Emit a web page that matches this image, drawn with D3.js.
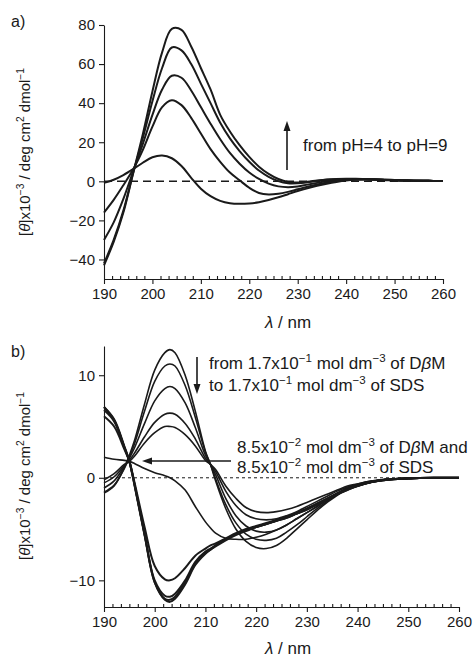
<!DOCTYPE html>
<html><head><meta charset="utf-8">
<script src="https://cdn.jsdelivr.net/npm/d3@7"></script>
<style>
body{margin:0;background:#fff}
svg{display:block}
text{font-family:"Liberation Sans",Arial,Helvetica,sans-serif;fill:#1a1a1a}
</style>
</head><body>
<svg id="chart" width="473" height="658"></svg>
<script>
// ---------- Panel a data ----------
const wavelengthsA = [190,192,194,196,198,200,202,204,206,208,210,212,214,216,218,220,222,224,226,228,230,232,234,236,238,240,242,244,246,248,250,252,254,256,258,260];
const cdA_1 = [-43,-31,-16,4,24,46,66,78,77.5,69,58,47,34,25.5,18.5,12.5,7.5,3.8,1.2,-0.3,-0.6,-0.2,0.4,0.9,1.2,1.3,1.3,1.1,0.9,0.7,0.5,0.4,0.3,0.3,0.2,0.2];
const cdA_2 = [-42,-30,-15,4,22,41,58,68.5,67,60,50,40,30,22,15.5,10,5.5,2.3,0.1,-1,-1,-0.5,0.2,0.8,1.1,1.2,1.2,1.0,0.8,0.6,0.5,0.4,0.3,0.3,0.2,0.2];
const cdA_3 = [-30,-21,-9,5,19,34,47,54,53,46.5,38,29.5,21.5,14.5,9,4.5,1.2,-1.2,-2.6,-3,-2.6,-1.7,-0.8,0.1,0.7,1.0,1.1,1.0,0.9,0.7,0.5,0.4,0.3,0.3,0.2,0.2];
const cdA_4 = [-16,-9.5,-2,6,16,28,38,41.5,39,32.5,24.5,16.5,10,4.5,0.5,-3.3,-6,-6.8,-6.4,-5.4,-4.1,-2.8,-1.6,-0.6,0.2,0.7,0.9,1.0,0.9,0.7,0.5,0.4,0.3,0.3,0.2,0.2];
const cdA_5 = [-0.8,0.8,3.2,6.2,9.5,12.3,13.2,11.8,7.8,1.8,-3.8,-7.6,-10,-11.2,-11.5,-11.3,-10.7,-9.6,-8.2,-6.6,-5,-3.6,-2.3,-1.2,-0.3,0.4,0.8,1.0,1.0,0.9,0.7,0.5,0.4,0.3,0.2,0.2];
const seriesA = [cdA_1, cdA_2, cdA_3, cdA_4, cdA_5];

// ---------- Panel b data ----------
const wavelengthsB = [190,192,194,195,196,198,200,202,203,204,206,208,210,211,212,214,216,218,220,222,224,226,228,230,232,234,236,238,240,243,246,250,255,260];
const cdB_A1 = [-1.5,-0.8,1.0,2.2,3.6,7.2,10.5,12.2,12.5,12.2,10.0,6.5,2.6,1.3,-0.3,-3.0,-5.0,-6.2,-6.8,-6.9,-6.6,-5.9,-5.0,-4.1,-3.2,-2.4,-1.7,-1.2,-0.8,-0.4,-0.2,-0.1,0,0];
const cdB_A2 = [-1.4,-0.7,0.9,2.0,3.3,6.5,9.4,10.9,11.1,10.9,9.0,5.9,2.5,1.3,-0.1,-2.6,-4.4,-5.5,-6.0,-6.1,-5.9,-5.3,-4.6,-3.8,-3.0,-2.3,-1.6,-1.1,-0.8,-0.4,-0.2,-0.1,0,0];
const cdB_A3 = [-1.0,-0.3,1.1,1.9,2.9,5.3,7.5,8.7,8.9,8.7,7.3,4.9,2.2,1.3,0.3,-2.0,-3.7,-4.7,-5.2,-5.3,-5.1,-4.6,-4.0,-3.4,-2.8,-2.1,-1.5,-1.0,-0.7,-0.4,-0.2,-0.1,0,0];
const cdB_A4 = [-0.5,0.1,1.2,1.7,2.4,4.0,5.4,6.2,6.3,6.2,5.3,3.8,1.9,1.3,0.6,-1.3,-2.7,-3.6,-4.0,-4.1,-4.0,-3.7,-3.3,-2.8,-2.3,-1.8,-1.3,-0.9,-0.6,-0.3,-0.15,-0.05,0,0];
const cdB_A5 = [-0.2,0.4,1.3,1.6,2.1,3.4,4.4,5.0,5.0,4.9,4.2,3.1,1.7,1.3,0.8,-0.8,-2.0,-2.9,-3.3,-3.4,-3.3,-3.1,-2.8,-2.4,-2.0,-1.6,-1.2,-0.8,-0.6,-0.3,-0.15,-0.05,0,0];
const cdB_mix = [2.0,1.8,1.7,1.6,1.4,0.9,0.5,0.2,0.0,-0.3,-1.2,-2.8,-4.3,-4.9,-5.4,-5.9,-6.0,-6.0,-5.8,-5.5,-5.1,-4.6,-4.0,-3.4,-2.8,-2.2,-1.6,-1.1,-0.7,-0.35,-0.15,-0.05,0,0];
const cdB_B1 = [6.0,5.0,2.8,1.6,-0.4,-4.8,-8.6,-9.9,-10.0,-9.8,-8.8,-7.6,-6.9,-6.6,-6.4,-5.9,-5.4,-5.0,-4.7,-4.4,-4.1,-3.8,-3.4,-3.0,-2.5,-2.0,-1.5,-1.1,-0.7,-0.35,-0.15,-0.05,0,0];
const cdB_B2 = [6.9,5.6,3.0,1.6,-0.6,-5.5,-10.0,-11.5,-11.6,-11.3,-10.0,-8.2,-7.2,-6.9,-6.6,-6.0,-5.5,-5.1,-4.8,-4.5,-4.2,-3.8,-3.5,-3.0,-2.6,-2.1,-1.6,-1.1,-0.7,-0.35,-0.15,-0.05,0,0];
const cdB_B3 = [6.9,5.7,3.1,1.6,-0.7,-5.6,-10.2,-11.8,-11.9,-11.6,-10.2,-8.4,-7.3,-7.0,-6.6,-6.0,-5.5,-5.1,-4.8,-4.5,-4.2,-3.9,-3.5,-3.1,-2.6,-2.1,-1.6,-1.1,-0.8,-0.4,-0.15,-0.05,0,0];
const cdB_B4 = [6.6,5.5,3.0,1.6,-0.6,-5.5,-10.2,-11.9,-12.1,-11.8,-10.4,-8.5,-7.4,-7.0,-6.7,-6.1,-5.6,-5.2,-4.8,-4.5,-4.2,-3.9,-3.5,-3.1,-2.6,-2.1,-1.6,-1.2,-0.8,-0.4,-0.15,-0.05,0,0];
const seriesB = [cdB_A1, cdB_A2, cdB_A3, cdB_A4, cdB_A5, cdB_mix, cdB_B1, cdB_B2, cdB_B3, cdB_B4];

// ---------- Ticks ----------
const xTicks = [190,200,210,220,230,240,250,260];
const yTicksA = [-40,-20,0,20,40,60,80];
const yTicksB = [-10,0,10];

const svg = d3.select("#chart");
const ink = "#1a1a1a";

const xA = d3.scaleLinear().domain([190,260]).range([104,443]);
const yA = d3.scaleLinear().domain([-50,80]).range([279,25]);
const xB = d3.scaleLinear().domain([190,260]).range([104,459]);
const yB = d3.scaleLinear().domain([-12.6,12.85]).range([607,346]);

const minorTicks = [];
xTicks.slice(0,-1).forEach(t => { for (let k=1;k<6;k++) minorTicks.push(t + k*10/6); });

function fmt(d){ return d < 0 ? "\u2212" + Math.abs(d) : String(d); }

function drawAxes(x, y, yTicks, yLabelY) {
  const h = y.range()[0];
  const gx = svg.append("g").attr("transform", `translate(0,${h})`)
    .call(d3.axisBottom(x).tickValues(xTicks).tickSize(5).tickSizeOuter(0).tickPadding(4).tickFormat(fmt));
  svg.append("g").attr("transform", `translate(0,${h})`)
    .call(d3.axisBottom(x).tickValues(minorTicks).tickSize(-3).tickSizeOuter(0).tickFormat(""))
    .select(".domain").remove();
  const gy = svg.append("g").attr("transform", `translate(${x.range()[0]},0)`)
    .call(d3.axisLeft(y).tickValues(yTicks).tickSize(5).tickSizeOuter(0).tickPadding(4).tickFormat(fmt));
  svg.selectAll(".tick text").attr("font-size", 15).attr("font-family", '"Liberation Sans",Arial,sans-serif').attr("fill", ink);
  svg.selectAll(".domain, .tick line").attr("stroke", ink).attr("stroke-width", 1.1);
}

function richText(x, y, parts, opts = {}) {
  const t = svg.append("text").attr("x", x).attr("y", y)
    .attr("font-size", opts.size || 17)
    .attr("text-anchor", opts.anchor || "start");
  if (opts.rotate) t.attr("transform", `rotate(${opts.rotate},${x},${y})`);
  let shifted = false;
  parts.forEach(p => {
    const s = t.append("tspan").text(p.t);
    if (p.sup) { s.attr("dy", shifted ? 0 : "-0.42em").attr("font-size", "0.68em"); shifted = true; }
    else { if (shifted) { s.attr("dy", "0.42em"); shifted = false; } }
    if (p.it) s.attr("font-style", "italic");
  });
  return t;
}

// Fix: dy in em of tspan font-size; use px values for consistency
function richTextPx(x, y, parts, opts = {}) {
  const size = opts.size || 17;
  const t = svg.append("text").attr("x", x).attr("y", y)
    .attr("font-size", size)
    .attr("text-anchor", opts.anchor || "start");
  if (opts.rotate) t.attr("transform", `rotate(${opts.rotate},${x},${y})`);
  const up = size * 0.4;
  let shifted = false;
  parts.forEach(p => {
    const s = t.append("tspan").text(p.t);
    if (p.sup) { if (!shifted) s.attr("dy", -up); s.attr("font-size", size * 0.68); shifted = true; }
    else if (shifted) { s.attr("dy", up); shifted = false; }
    if (p.it) s.attr("font-style", "italic");
  });
  return t;
}

function arrow(x1, y1, x2, y2) {
  const ang = Math.atan2(y2 - y1, x2 - x1);
  const L = 10, W = 3.5;
  const bx = x2 - L * Math.cos(ang), by = y2 - L * Math.sin(ang);
  svg.append("line").attr("x1", x1).attr("y1", y1).attr("x2", bx).attr("y2", by)
    .attr("stroke", ink).attr("stroke-width", 1.6);
  svg.append("path").attr("d", `M${x2},${y2}L${bx - W*Math.sin(ang)},${by + W*Math.cos(ang)}L${bx + W*Math.sin(ang)},${by - W*Math.cos(ang)}Z`)
    .attr("fill", ink);
}

// ---------- Panel a ----------
svg.append("line").attr("x1", xA(190)).attr("x2", xA(260)).attr("y1", yA(0)).attr("y2", yA(0))
  .attr("stroke", ink).attr("stroke-width", 1.6).attr("stroke-dasharray", "8,5");
const lineA = d3.line().x((d,i) => xA(wavelengthsA[i])).y(d => yA(d)).curve(d3.curveCatmullRom.alpha(0.5));
svg.append("g").selectAll("path").data(seriesA).join("path")
  .attr("d", lineA).attr("fill", "none").attr("stroke", ink).attr("stroke-width", 2).attr("stroke-linejoin", "round");
drawAxes(xA, yA, yTicksA);

// ---------- Panel b ----------
svg.append("line").attr("x1", xB(190)).attr("x2", xB(260)).attr("y1", yB(0)).attr("y2", yB(0))
  .attr("stroke", ink).attr("stroke-width", 1).attr("stroke-dasharray", "3,3");
const lineB = d3.line().x((d,i) => xB(wavelengthsB[i])).y(d => yB(d)).curve(d3.curveCatmullRom.alpha(0.5));
svg.append("g").selectAll("path").data(seriesB).join("path")
  .attr("d", lineB).attr("fill", "none").attr("stroke", ink).attr("stroke-width", (d,i) => i >= 6 ? 2 : 1.6).attr("stroke-linejoin", "round");
drawAxes(xB, yB, yTicksB);

// ---------- Labels ----------
svg.append("text").attr("x", 11).attr("y", 27).attr("font-size", 16).text("a)");
svg.append("text").attr("x", 11).attr("y", 357).attr("font-size", 16).text("b)");

const yTitle = [{t:"["},{t:"θ",it:true},{t:"]x10"},{t:"−3",sup:true},{t:" / deg cm"},{t:"2",sup:true},{t:" dmol"},{t:"−1",sup:true}];
richTextPx(30, 152, yTitle, {size:15, anchor:"middle", rotate:-90});
richTextPx(30, 476, yTitle, {size:15, anchor:"middle", rotate:-90});

const xTitle = [{t:"λ",it:true},{t:" / nm"}];
richTextPx(288, 328, xTitle, {size:17, anchor:"middle"});
richTextPx(288, 654, xTitle, {size:17, anchor:"middle"});

// annotation a
arrow(287, 170, 287, 121);
richTextPx(303, 151, [{t:"from pH=4 to pH=9"}], {size:17});

// annotation b
arrow(197, 357, 197, 394);
richTextPx(209, 369, [{t:"from 1.7x10"},{t:"−1",sup:true},{t:" mol dm"},{t:"−3",sup:true},{t:" of D"},{t:"β",it:true},{t:"M"}], {size:17});
richTextPx(209, 391, [{t:"to 1.7x10"},{t:"−1",sup:true},{t:" mol dm"},{t:"−3",sup:true},{t:" of SDS"}], {size:17});

arrow(231, 461, 142, 461);
richTextPx(237, 453, [{t:"8.5x10"},{t:"−2",sup:true},{t:" mol dm"},{t:"−3",sup:true},{t:" of D"},{t:"β",it:true},{t:"M and"}], {size:17});
richTextPx(237, 473, [{t:"8.5x10"},{t:"−2",sup:true},{t:" mol dm"},{t:"−3",sup:true},{t:" of SDS"}], {size:17});
</script>
</body></html>
